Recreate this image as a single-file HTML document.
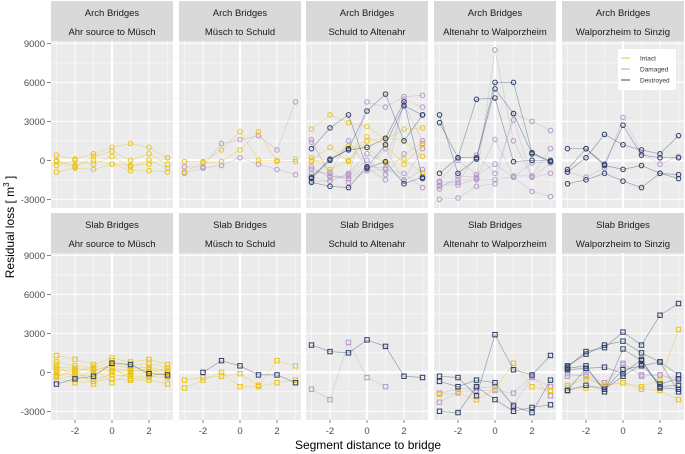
<!DOCTYPE html>
<html><head><meta charset="utf-8">
<style>
html,body{margin:0;padding:0;background:#fff;}
svg{display:block;font-family:"Liberation Sans",sans-serif;}
</style></head>
<body>
<svg id="chart" width="685" height="454" viewBox="0 0 685 454"></svg>
<script>
const rowTypes = ["Arch Bridges", "Slab Bridges"];
const reaches = ["Ahr source to Müsch", "Müsch to Schuld", "Schuld to Altenahr", "Altenahr to Walporzheim", "Walporzheim to Sinzig"];
const xTicks = [-2, 0, 2];
const yTicks = [-3000, 0, 3000, 6000, 9000];
const statuses = ["Intact", "Damaged", "Destroyed"];
const statusColors = {Intact: "#e8c31c", Damaged: "#b897c8", Destroyed: "#2a3d66"};
const lineColors = {Intact: "rgba(232,195,28,0.45)", Damaged: "rgba(170,160,190,0.4)", Destroyed: "rgba(42,61,102,0.45)"};

// series values at x = -3..3 for each facet [row][col]
const archAhr = [
 ["Intact",[400,100,500,1000,1300,1000,200]],
 ["Intact",[-100,-500,300,700,0,500,-300]],
 ["Intact",[-900,-600,-700,-300,-800,-800,-900]],
 ["Intact",[-400,0,-300,300,-500,0,-600]],
 ["Intact",[0,-400,0,-300,-400,-300,200]]
];
const archMusch = [
 ["Damaged",[-500,-500,1300,1600,1900,800,4500]],
 ["Damaged",[-1000,-600,-400,200,-300,-700,-1100]],
 ["Intact",[-100,-100,800,2200,0,0,100]],
 ["Intact",[-900,-200,-100,800,2200,-100,-100]]
];
const archSchuld = [
 ["Damaged",[1600,-1200,-1400,4500,4100,4900,5000]],
 ["Damaged",[1400,-1000,1500,-600,-1500,4700,4100]],
 ["Damaged",[-500,-1300,-1200,-500,-600,-1500,900]],
 ["Damaged",[-1000,-900,-1700,-800,-700,-1000,-2100]],
 ["Damaged",[-1300,-1600,-1000,500,-200,4300,1500]],
 ["Damaged",[-1600,-1600,-1100,0,-1100,500,1300]],
 ["Damaged",[-700,-1200,-1400,-700,900,-1600,-700]],
 ["Intact",[2400,3500,2900,2600,1600,2400,2500]],
 ["Intact",[0,1000,-100,1500,1700,1500,300]],
 ["Intact",[-100,100,1100,1000,-200,100,-1000]],
 ["Intact",[200,-700,0,1800,1200,-300,1200]],
 ["Destroyed",[900,2500,3500,-600,-100,-1800,-1300]],
 ["Destroyed",[-1700,-2000,-2100,-500,1200,4200,3500]],
 ["Destroyed",[-1400,0,900,3800,5100,1500,3500]],
 ["Destroyed",[-1300,100,800,1000,1700,4500,-1400]]
];
const archAltenahr = [
 ["Damaged",[-1900,-1900,-1400,8500,1500,-1300,-200]],
 ["Damaged",[-2000,-1500,-1500,-1500,-1300,-2400,-2800]],
 ["Damaged",[-3000,-2900,-2000,-1800,3600,3000,2300]],
 ["Damaged",[-1700,-1700,400,-1000,3100,-1300,-1000]],
 ["Damaged",[-2200,-1200,-1300,1600,-1200,-1200,900]],
 ["Damaged",[-1600,0,-1100,-300,-1300,-200,-100]],
 ["Destroyed",[3500,-1000,100,5500,3600,500,-100]],
 ["Destroyed",[2900,200,200,6000,6000,600,-100]],
 ["Destroyed",[-1000,200,4700,4800,-100,0,0]]
];
const archWalp = [
 ["Damaged",[-900,-1300,-600,3300,600,-300,300]],
 ["Destroyed",[900,900,-300,2700,400,200,200]],
 ["Destroyed",[-900,200,2000,1200,800,500,1900]],
 ["Destroyed",[-700,900,-400,-700,-400,-1000,-1100]],
 ["Destroyed",[-1800,-1500,-1000,-1600,-2100,-1000,-1400]]
];
const slabAhr = [
 ["Intact",[1300,1000,600,1100,800,1000,600]],
 ["Intact",[800,500,300,900,500,700,300]],
 ["Intact",[400,300,100,600,300,400,100]],
 ["Intact",[200,0,-100,300,100,200,0]],
 ["Intact",[0,-200,-300,100,-100,0,-200]],
 ["Intact",[-200,-400,-500,-200,-300,-300,-400]],
 ["Intact",[-400,-800,-700,-500,-600,-600,-900]],
 ["Intact",[100,200,-900,0,200,-100,300]],
 ["Intact",[-300,100,400,-800,0,300,-300]],
 ["Intact",[600,-500,200,400,-500,-400,100]],
 ["Destroyed",[-900,-500,-300,700,600,-100,-200]]
];
const slabMusch = [
 ["Intact",[-600,-400,-300,-100,-1000,900,500]],
 ["Intact",[-1200,-600,0,-1100,-1100,-800,-600]],
 ["Destroyed",[null,0,900,500,-200,-200,-800]]
];
const slabSchuld = [
 ["Damaged",[-1300,-2100,2300,-400,-1100,null,null]],
 ["Destroyed",[2100,1600,1500,2500,2000,-300,-400]]
];
const slabAltenahr = [
 ["Intact",[-1700,-1600,-2100,-1300,700,-1100,-1400]],
 ["Damaged",[-2300,-1500,-1400,-1400,-1600,-300,-1800]],
 ["Damaged",[-1600,-1300,-1200,-1100,-2500,-400,-1100]],
 ["Destroyed",[-300,-400,-1800,2900,200,-200,1300]],
 ["Destroyed",[-700,-1100,-600,-800,-2600,-3100,-600]],
 ["Destroyed",[-3000,-3100,-1100,-2100,-3000,-2700,-2500]]
];
const slabWalp = [
 ["Intact",[-1000,-500,-1000,-800,-1100,-600,3300]],
 ["Intact",[-1200,-1200,-1000,-800,-1300,-1400,-2100]],
 ["Damaged",[-300,-200,-800,600,-200,-200,-700]],
 ["Damaged",[-100,-300,-1100,700,-300,-200,-500]],
 ["Destroyed",[400,1600,1900,3100,2100,4400,5300]],
 ["Destroyed",[500,1400,2100,2400,1500,800,-200]],
 ["Destroyed",[300,500,-1500,1800,900,-1100,-1000]],
 ["Destroyed",[-1400,-1000,-1300,200,500,800,-1500]],
 ["Destroyed",[200,300,400,-100,1000,-1200,-1300]],
 ["Destroyed",[-1400,300,-1300,-300,600,-900,-500]]
];
const facetData = [[archAhr, archMusch, archSchuld, archAltenahr, archWalp],[slabAhr, slabMusch, slabSchuld, slabAltenahr, slabWalp]];
const xSteps = [-3,-2,-1,0,1,2,3];

const NS = "http://www.w3.org/2000/svg";
const svg = document.getElementById("chart");
function mk(tag, attrs, parent){const e=document.createElementNS(NS,tag);for(const k in attrs)e.setAttribute(k,attrs[k]);(parent||svg).appendChild(e);return e;}

const panelX = [51,179,306,434,562];
const panelW = 122;
const rowStripTop = [1,213];
const rowPanelTop = [41,253];
const panelH = 167;
const yMin = -3670, yMax = 9190;
function sx(col, v){return panelX[col] + panelW/2 + v*18.5;}
function sy(row, v){return rowPanelTop[row] + (yMax - v)/(yMax - yMin)*panelH;}

for (let r=0;r<2;r++){
 for (let c=0;c<5;c++){
  const g = mk("g",{});
  
  
  const strip = mk("rect",{x:panelX[c],y:rowStripTop[r],width:panelW,height:40,fill:"#d9d9d9"},g);
  
  
  const t1 = mk("text",{x:panelX[c]+panelW/2,y:rowStripTop[r]+15,"text-anchor":"middle","font-size":"9.5",fill:"#1a1a1a"},g);
  t1.textContent = rowTypes[r];
  
  
  const t2 = mk("text",{x:panelX[c]+panelW/2,y:rowStripTop[r]+34,"text-anchor":"middle","font-size":"9.5",fill:"#1a1a1a"},g);
  t2.textContent = reaches[c];
  
  
  const bg = mk("rect",{x:panelX[c],y:rowPanelTop[r],width:panelW,height:panelH,fill:"#ebebeb"},g);
  
  
  // minor grid
  for (let i=0;i<yTicks.length-1;i++){
   const v=(yTicks[i]+yTicks[i+1])/2;
   mk("line",{x1:panelX[c],x2:panelX[c]+panelW,y1:sy(r,v),y2:sy(r,v),stroke:"#fff","stroke-width":0.5},g);
  }
  for (const v of [-3,-1,1,3]) mk("line",{x1:sx(c,v),x2:sx(c,v),y1:rowPanelTop[r],y2:rowPanelTop[r]+panelH,stroke:"#fff","stroke-width":0.5},g);
  for (const v of yTicks) mk("line",{x1:panelX[c],x2:panelX[c]+panelW,y1:sy(r,v),y2:sy(r,v),stroke:"#fff","stroke-width":v===0?2.2:1},g);
  for (const v of xTicks) mk("line",{x1:sx(c,v),x2:sx(c,v),y1:rowPanelTop[r],y2:rowPanelTop[r]+panelH,stroke:"#fff","stroke-width":v===0?2.2:1},g);
  // series
  const data = facetData[r][c];
  for (const order of ["Damaged","Intact","Destroyed"]){
   for (const [st, vals] of data){
    if (st!==order) continue;
    let d="";
    vals.forEach((v,i)=>{ if(v===null) return; d += (d?"L":"M")+sx(c,xSteps[i]).toFixed(1)+","+sy(r,v).toFixed(1); });
    const p = mk("path",{d:d,fill:"none",stroke:lineColors[st],"stroke-width":0.7},g);
    
    
    vals.forEach((v,i)=>{
     if(v===null) return;
     const px=sx(c,xSteps[i]), py=sy(r,v);
     let m;
     if (r===0) m = mk("circle",{cx:px,cy:py,r:2.3,fill:"none",stroke:statusColors[st],"stroke-width":1},g);
     else m = mk("rect",{x:px-2.2,y:py-2.2,width:4.4,height:4.4,fill:"none",stroke:statusColors[st],"stroke-width":1},g);
     
     
    });
   }
  }
  // y axis ticks on first column
  if (c===0){
   for (const v of yTicks){
    mk("line",{x1:47,x2:51,y1:sy(r,v),y2:sy(r,v),stroke:"#333","stroke-width":0.6});
    const tl = mk("text",{x:45,y:sy(r,v)+3.5,"text-anchor":"end","font-size":"9.5",fill:"#4d4d4d"});
    tl.textContent = v;
    
    
   }
  }
  if (r===1){
   for (const v of xTicks){
    mk("line",{x1:sx(c,v),x2:sx(c,v),y1:rowPanelTop[r]+panelH,y2:rowPanelTop[r]+panelH+3,stroke:"#333","stroke-width":0.6});
    const tl = mk("text",{x:sx(c,v),y:434,"text-anchor":"middle","font-size":"9.5",fill:"#4d4d4d"});
    tl.textContent = v;
    
    
   }
  }
 }
}
// axis titles
const xt = mk("text",{x:368,y:449,"text-anchor":"middle","font-size":"12",fill:"#000"});
xt.textContent = "Segment distance to bridge";


const yt = mk("text",{x:0,y:0,"text-anchor":"middle","font-size":"12",fill:"#000",transform:"translate(14,227) rotate(-90)"});
yt.innerHTML = 'Residual loss [ m<tspan dy="-5" font-size="8">3</tspan><tspan dy="5"> ]</tspan>';


// legend
const lg = mk("g",{});


mk("rect",{x:618,y:49,width:58,height:41,fill:"#fff"},lg);
statuses.forEach((s,i)=>{
 const y = 58 + i*11;
 const ll = mk("line",{x1:621,x2:630,y1:y,y2:y,stroke:lineColors[s].replace(/0\.4\d?\)/,"0.8)"),"stroke-width":1.2},lg);
 
 
 const lt = mk("text",{x:640,y:y+2.5,"font-size":"6.5",fill:"#333"},lg);
 lt.textContent = s;
 
 
});
</script>
</body></html>
